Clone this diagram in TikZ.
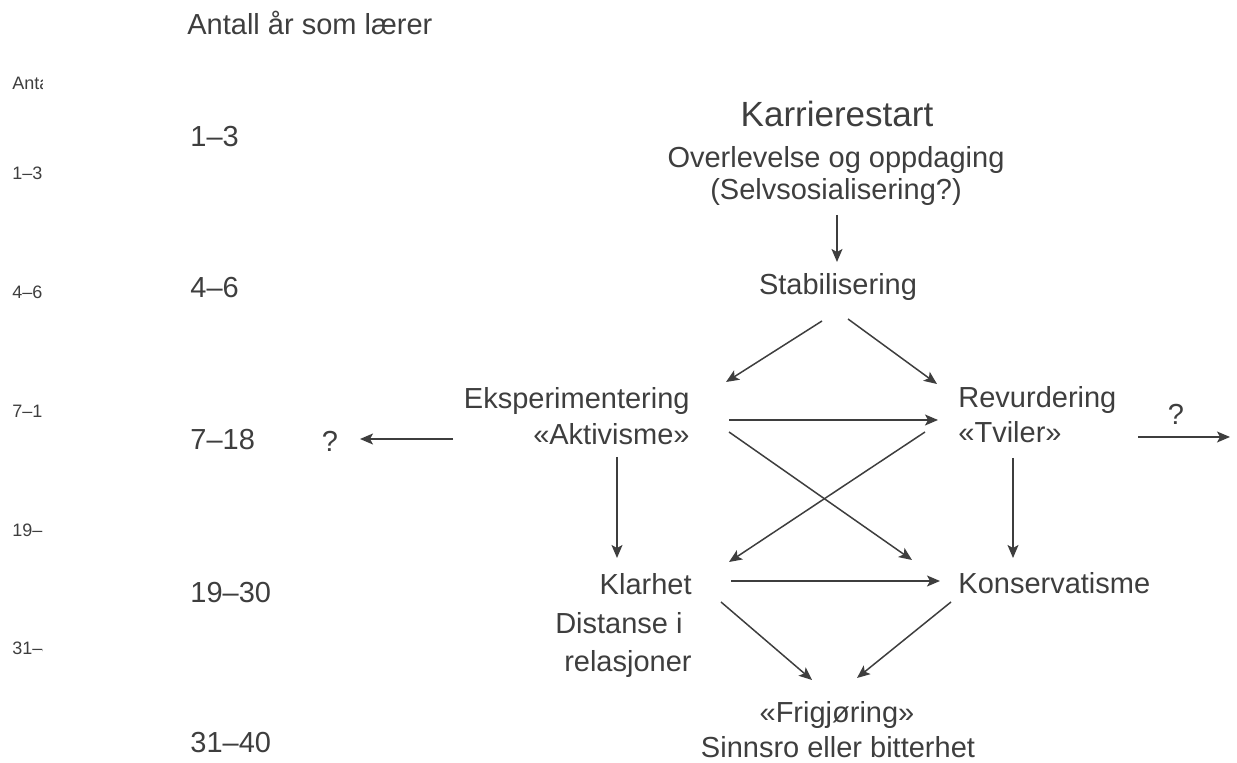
\documentclass[tikz,border=0pt]{standalone}
\usepackage{fontspec}
\setmainfont{Liberation Sans}
\usetikzlibrary{positioning, calc, arrows.meta}
\definecolor{ink}{HTML}{3E3E3E}

\begin{document}
\begin{tikzpicture}[x=0.5pt, y=-0.5pt,
    lbl/.style={font=\fontsize{14.5}{17}\selectfont, text=ink, inner sep=0pt},
    big/.style={font=\fontsize{17.5}{20}\selectfont, text=ink, inner sep=0pt},
    small/.style={font=\fontsize{9}{11}\selectfont, text=ink, inner sep=0pt, anchor=base west},
    arr/.style={draw=ink, line width=0.75pt, -{Stealth[length=6.5pt, width=5.5pt, inset=1.5pt]}}]

        \useasboundingbox (0,0) rectangle (1237,763);

        %cut-off column at the left edge
        \begin{scope}
            \clip (0,60) rectangle (42.5,670);
            \node[small] (sTitle) at (12,90) {Antall år som lærer};
            \node[small] (sY1) at (12,180) {1–3};
            \node[small] (sY2) at (12,299) {4–6};
            \node[small] (sY3) at (12,418) {7–18};
            \node[small] (sY4) at (12,537) {19–30};
            \node[small] (sY5) at (12,655) {31–40};
        \end{scope}

        %years
        \node[lbl, anchor=base west] (title) at (187,35) {Antall år som lærer};
        \node[lbl, anchor=base west] (y1) at (190,147) {1–3};
        \node[lbl, anchor=base west] (y2) at (190,298) {4–6};
        \node[lbl, anchor=base west] (y3) at (190,450) {7–18};
        \node[lbl, anchor=base west] (y4) at (190,603) {19–30};
        \node[lbl, anchor=base west] (y5) at (190,753) {31–40};

        %phases
        \node[big, anchor=base] (kar) at (837,127) {Karrierestart};
        \node[lbl, anchor=base] (over) at (836,168) {Overlevelse og oppdaging};
        \node[lbl, anchor=base] (selv) at (836,200) {(Selvsosialisering?)};
        \node[lbl, anchor=base] (stab) at (838,295) {Stabilisering};
        \node[lbl, anchor=base east] (eksp) at (690,409) {Eksperimentering};
        \node[lbl, anchor=base east] (akt) at (690,445) {«Aktivisme»};
        \node[lbl, anchor=base west] (rev) at (958,408) {Revurdering};
        \node[lbl, anchor=base west] (tvil) at (958,443) {«Tviler»};
        \node[lbl, anchor=base east] (klar) at (692,595) {Klarhet};
        \node[lbl, anchor=base east] (dist) at (692,634) {Distanse i\kern4.5pt};
        \node[lbl, anchor=base east] (rel) at (692,672) {relasjoner};
        \node[lbl, anchor=base west] (kons) at (958,594) {Konservatisme};
        \node[lbl, anchor=base] (frig) at (837,723) {«Frigjøring»};
        \node[lbl, anchor=base] (sinn) at (838,758) {Sinnsro eller bitterhet};
        \node[lbl, anchor=base] (qL) at (330,452) {?};
        \node[lbl, anchor=base] (qR) at (1176,425) {?};

        %arrows
        \draw[arr] ($(selv.base)+(1,15)$) -- ($(stab.base)+(-1,-33)$);
        \draw[arr] ($(stab.base)+(-16,26)$) -- ($(eksp.base east)+(36,-27)$);
        \draw[arr] ($(stab.base)+(10,24)$) -- ($(rev.base west)+(-21,-24)$);
        \draw[arr] ($(eksp.base east)+(39,11)$) -- ($(rev.base west)+(-20,12)$);
        \draw[arr] ($(eksp.base east)+(39,23)$) -- ($(kons.base west)+(-46,-34)$);
        \draw[arr] ($(rev.base west)+(-33,24)$) -- ($(klar.base east)+(37,-33)$);
        \draw[arr] ($(akt.base east)+(-73,12)$) -- ($(klar.base east)+(-75,-37)$);
        \draw[arr] ($(tvil.base west)+(55,15)$) -- ($(kons.base west)+(55,-36)$);
        \draw[arr] ($(klar.base east)+(39,-14)$) -- ($(kons.base west)+(-18,-13)$);
        \draw[arr] ($(klar.base east)+(29,7)$) -- ($(frig.base)+(-25,-43)$);
        \draw[arr] ($(kons.base west)+(-7,8)$) -- ($(frig.base)+(20,-45)$);

        % open ends
        \draw[arr] ($(akt.base east)+(-237,-6)$) -- ($(qL.base)+(30,-13)$);
        \draw[arr] ($(tvil.base west)+(180,-6)$) -- ($(qR.base)+(54,12)$);
\end{tikzpicture}
\end{document}
